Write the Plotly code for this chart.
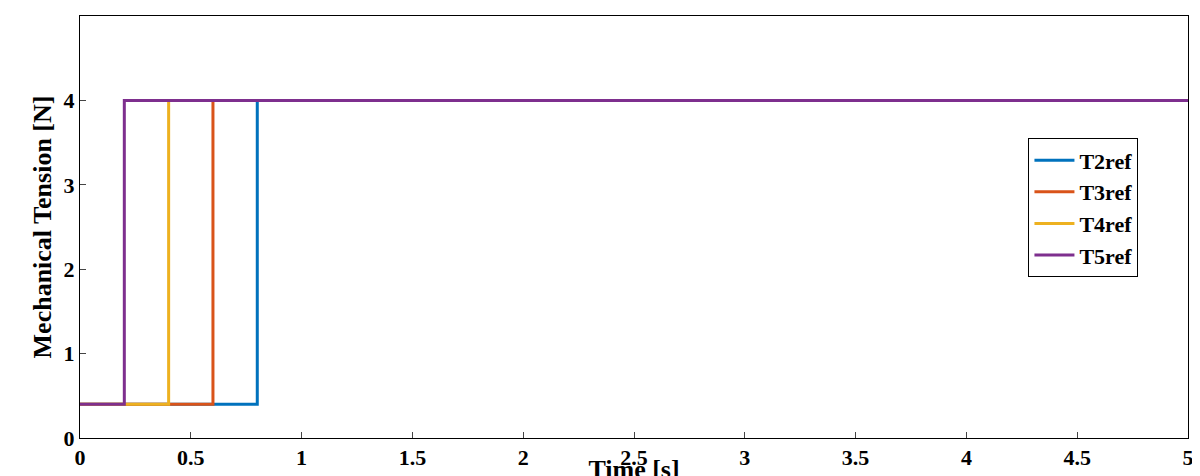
import plotly.graph_objects as go

names = ["T2ref", "T3ref", "T4ref", "T5ref"]
step_times = [0.8, 0.6, 0.4, 0.2]
low_val = 0.4
high_val = 4.0
t_end = 5.0
colors = ["#0072BD", "#D95319", "#EDB120", "#7E2F8E"]
x_ticks = [0, 0.5, 1, 1.5, 2, 2.5, 3, 3.5, 4, 4.5, 5]
x_labels = ["0", "0.5", "1", "1.5", "2", "2.5", "3", "3.5", "4", "4.5", "5"]
y_ticks = [0, 1, 2, 3, 4, 5]

fig = go.Figure()
for n, ts, c in zip(names, step_times, colors):
    fig.add_trace(go.Scatter(x=[0, ts, t_end], y=[low_val, high_val, high_val],
                             mode="lines", line=dict(color=c, width=3, shape="hv"), name="<b>%s</b>" % n))

font = dict(family="Liberation Serif", color="black")
ax = dict(showline=True, linecolor="black", linewidth=1, mirror=True, ticks="inside",
          ticklen=6, showgrid=False, zeroline=False, automargin=False,
          tickfont=dict(family="Liberation Serif", size=22, color="black", weight="bold"))
fig.update_layout(
    width=1200, height=476, template="none", plot_bgcolor="white", paper_bgcolor="white",
    margin=dict(l=72, r=20, t=8, b=46, autoexpand=False),
    xaxis=dict(range=[0, 5], tickvals=x_ticks, ticktext=x_labels,
               title=dict(text="<b>Time [s]</b>", font=dict(size=26, **font), standoff=2), **ax),
    yaxis=dict(range=[0, 5], tickvals=y_ticks,
               title=dict(text="<b>Mechanical Tension [N]</b>", font=dict(size=26, **font), standoff=4), **ax),
    legend=dict(x=0.856, y=0.71, xanchor="left", yanchor="top", bordercolor="black", borderwidth=1,
                bgcolor="white", font=dict(family="Liberation Serif", size=22, color="black"),
                tracegroupgap=0, itemwidth=40),
    showlegend=True,
)
fig.write_html("out.html")
